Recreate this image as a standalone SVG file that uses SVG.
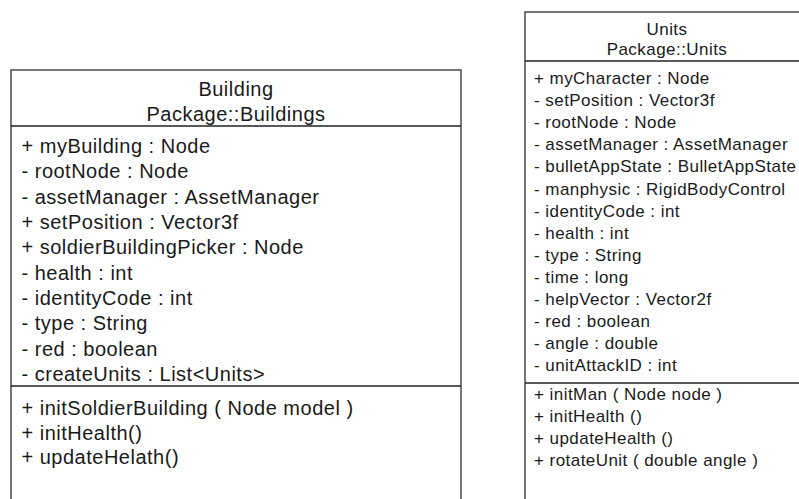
<svg xmlns="http://www.w3.org/2000/svg" width="799" height="499" viewBox="0 0 799 499">
<style>
.box{fill:#fff;stroke:#4a4a4a;stroke-width:1.5}
.div{stroke:#222;stroke-width:1.6}
.b{font-family:"Liberation Sans",Arial,sans-serif;font-size:20px;letter-spacing:0.5px;fill:#1a1a1a}
.u{font-family:"Liberation Sans",Arial,sans-serif;font-size:17px;letter-spacing:0.45px;fill:#1a1a1a}
.c{text-anchor:middle}
</style>
<rect width="799" height="499" fill="#fff"/>
<g id="building">
<rect class="box" x="11" y="70" width="450" height="450"/>
<line class="div" x1="11" y1="126" x2="461" y2="126"/>
<line class="div" x1="11" y1="386" x2="461" y2="386"/>
<text class="b c" x="236" y="96">Building</text>
<text class="b c" x="236" y="121">Package::Buildings</text>
<text class="b" x="21.5" y="153">+ myBuilding : Node</text>
<text class="b" x="21.5" y="178.3">- rootNode : Node</text>
<text class="b" x="21.5" y="203.7">- assetManager : AssetManager</text>
<text class="b" x="21.5" y="229">+ setPosition : Vector3f</text>
<text class="b" x="21.5" y="254.4">+ soldierBuildingPicker : Node</text>
<text class="b" x="21.5" y="279.7">- health : int</text>
<text class="b" x="21.5" y="305.1">- identityCode : int</text>
<text class="b" x="21.5" y="330.4">- type : String</text>
<text class="b" x="21.5" y="355.8">- red : boolean</text>
<text class="b" x="21.5" y="381.1">- createUnits : List&lt;Units&gt;</text>
<text class="b" x="21.5" y="415">+ initSoldierBuilding ( Node model )</text>
<text class="b" x="21.5" y="439.5">+ initHealth()</text>
<text class="b" x="21.5" y="464">+ updateHelath()</text>
</g>
<g id="units">
<rect class="box" x="525" y="12" width="285" height="510"/>
<line class="div" x1="525" y1="61" x2="810" y2="61"/>
<line class="div" x1="525" y1="383" x2="810" y2="383"/>
<text class="u c" x="667" y="35">Units</text>
<text class="u c" x="667" y="55">Package::Units</text>
<text class="u" x="534" y="84">+ myCharacter : Node</text>
<text class="u" x="534" y="106.1">- setPosition : Vector3f</text>
<text class="u" x="534" y="128.2">- rootNode : Node</text>
<text class="u" x="534" y="150.3">- assetManager : AssetManager</text>
<text class="u" x="534" y="172.4">- bulletAppState : BulletAppState</text>
<text class="u" x="534" y="194.5">- manphysic : RigidBodyControl</text>
<text class="u" x="534" y="216.6">- identityCode : int</text>
<text class="u" x="534" y="238.7">- health : int</text>
<text class="u" x="534" y="260.8">- type : String</text>
<text class="u" x="534" y="282.9">- time : long</text>
<text class="u" x="534" y="305">- helpVector : Vector2f</text>
<text class="u" x="534" y="327.1">- red : boolean</text>
<text class="u" x="534" y="349.2">- angle : double</text>
<text class="u" x="534" y="371.3">- unitAttackID : int</text>
<text class="u" x="534" y="399.5">+ initMan ( Node node )</text>
<text class="u" x="534" y="421.6">+ initHealth ()</text>
<text class="u" x="534" y="443.7">+ updateHealth ()</text>
<text class="u" x="534" y="465.8">+ rotateUnit ( double angle )</text>
</g>
<g id="connectors"/>
</svg>
